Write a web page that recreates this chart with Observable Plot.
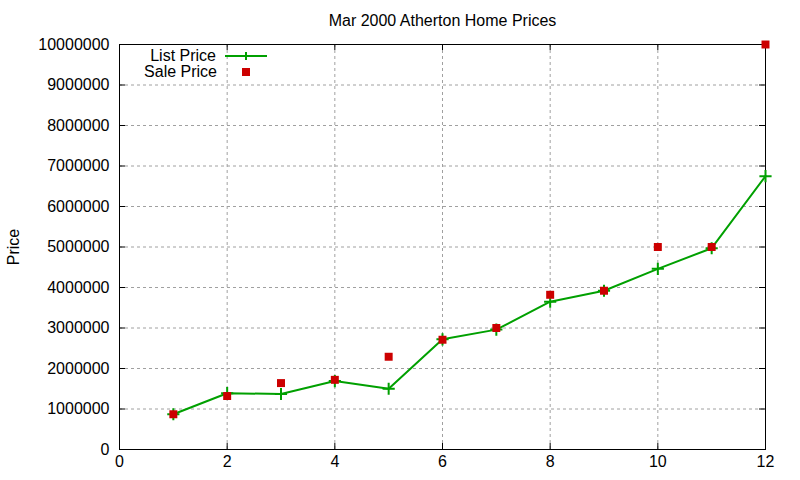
<!DOCTYPE html>
<html><head><meta charset="utf-8">
<script src="https://cdn.jsdelivr.net/npm/d3@7"></script>
<script src="https://cdn.jsdelivr.net/npm/@observablehq/plot@0.6"></script>
<style>
body{margin:0;background:#fff;font-family:"Liberation Sans",Arial,sans-serif;}
#wrap{position:relative;width:800px;height:480px;}
#legend{position:absolute;left:0;top:0;}
</style></head><body><div id="wrap"></div>
<script>
const title = "Mar 2000 Atherton Home Prices";
const yLabel = "Price";
const seriesNames = ["List Price", "Sale Price"];
const houses = [1, 2, 3, 4, 5, 6, 7, 8, 9, 10, 11, 12];
const listPrice = [870000, 1390000, 1370000, 1690000, 1500000, 2720000, 2960000, 3650000, 3920000, 4460000, 4970000, 6750000];
const salePrice = [870000, 1320000, 1640000, 1720000, 2290000, 2710000, 3000000, 3820000, 3920000, 5000000, 5000000, 10000000];
const xTicks = [0, 2, 4, 6, 8, 10, 12];
const yTicks = [0, 1000000, 2000000, 3000000, 4000000, 5000000, 6000000, 7000000, 8000000, 9000000, 10000000];

const green = "#00a000", red = "#cc0000";
const W = 800, H = 480, mL = 119, mR = 35, mT = 44, mB = 31;
const fw = W - mL - mR, fh = H - mT - mB, tk = 6;

const listData = houses.map((x, i) => ({x, y: listPrice[i]}));
const saleData = houses.map((x, i) => ({x, y: salePrice[i]}));

const chart = Plot.plot({
  width: W, height: H,
  marginLeft: mL, marginRight: mR, marginTop: mT, marginBottom: mB,
  style: {fontFamily: '"Liberation Sans", Arial, sans-serif', fontSize: "16px", background: "#fff", color: "#000"},
  x: {domain: [0, 12]},
  y: {domain: [0, 10000000]},
  marks: [
    Plot.gridX(xTicks.slice(1, -1), {stroke: "#a0a0a0", strokeOpacity: 1, strokeDasharray: "3,3"}),
    Plot.gridY(yTicks.slice(1, -1), {stroke: "#a0a0a0", strokeOpacity: 1, strokeDasharray: "3,3"}),
    Plot.tickX(xTicks, {x: d => d, insetTop: fh - tk, stroke: "#000"}),
    Plot.tickX(xTicks, {x: d => d, insetBottom: fh - tk, stroke: "#000"}),
    Plot.tickY(yTicks, {y: d => d, insetRight: fw - tk, stroke: "#000"}),
    Plot.tickY(yTicks, {y: d => d, insetLeft: fw - tk, stroke: "#000"}),
    Plot.axisX({ticks: xTicks, tickSize: 0, tickPadding: 6, tickFormat: d => String(d), label: null, fontSize: 16}),
    Plot.axisY({ticks: yTicks, tickSize: 0, tickPadding: 10, tickFormat: d => String(d), label: yLabel, labelAnchor: "center", labelOffset: 112, labelArrow: "none", fontSize: 16}),
    Plot.frame({stroke: "#000", strokeWidth: 1}),
    Plot.line(listData, {x: "x", y: "y", stroke: green, strokeWidth: 2}),
    Plot.dot(listData, {x: "x", y: "y", symbol: "plus", r: 4, stroke: green, strokeWidth: 2}),
    Plot.dot(saleData, {x: "x", y: "y", symbol: "square", r: 4.5, fill: red, stroke: "none"}),
    Plot.text([title], {frameAnchor: "top", dy: -30, fontSize: 16, fill: "#000"})
  ]
});
const wrap = document.getElementById("wrap");
wrap.appendChild(chart);

// legend overlay
const leg = d3.select(wrap).append("svg").attr("id", "legend").attr("width", 300).attr("height", 90)
  .style("font-family", '"Liberation Sans", Arial, sans-serif').style("font-size", "16px");
leg.append("text").attr("x", 216).attr("y", 55).attr("dy", "0.35em").attr("text-anchor", "end").text(seriesNames[0]);
leg.append("line").attr("x1", 225).attr("x2", 267).attr("y1", 56).attr("y2", 56).attr("stroke", green).attr("stroke-width", 2);
leg.append("path").attr("d", "M242,56h8M246,52v8").attr("stroke", green).attr("stroke-width", 2);
leg.append("text").attr("x", 217).attr("y", 71).attr("dy", "0.35em").attr("text-anchor", "end").text(seriesNames[1]);
leg.append("rect").attr("x", 242).attr("y", 68).attr("width", 8).attr("height", 8).attr("fill", red);
</script></body></html>
